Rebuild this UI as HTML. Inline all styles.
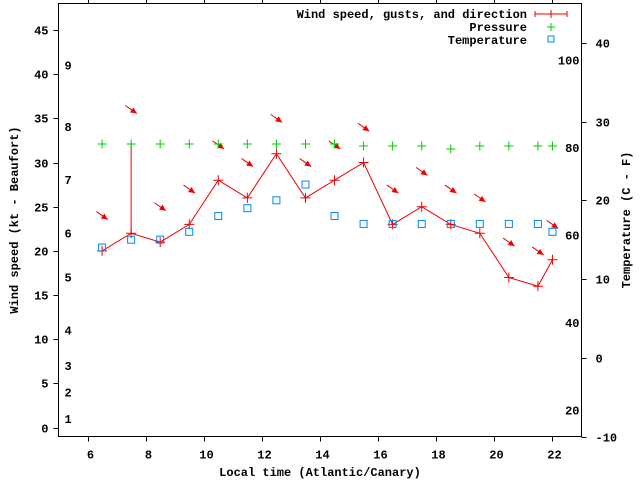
<!DOCTYPE html>
<html><head><meta charset="utf-8"><style>
html,body{margin:0;padding:0;background:#fff;}
svg{display:block;font-family:"Liberation Mono",monospace;font-weight:bold;font-size:12px;}
</style></head><body>
<svg id="chart" width="640" height="480" viewBox="0 0 640 480" xmlns="http://www.w3.org/2000/svg">
<rect width="640" height="480" fill="#fff"/>
<g id="axes"></g>
<g id="marks"></g>
<g id="legend">
  <text x="527" y="18" text-anchor="end">Wind speed, gusts, and direction</text>
  <g stroke="#e00" stroke-width="1">
    <line x1="535" y1="14" x2="567" y2="14"/><line x1="535" y1="11" x2="535" y2="17"/><line x1="567" y1="11" x2="567" y2="17"/><line x1="551" y1="10" x2="551" y2="18"/>
  </g>
  <text x="527" y="31" text-anchor="end">Pressure</text>
  <g stroke="#0c0"><line x1="547" y1="27" x2="555" y2="27"/><line x1="551" y1="23" x2="551" y2="31"/></g>
  <text x="527" y="44" text-anchor="end">Temperature</text>
  <rect x="548" y="36" width="6" height="6" fill="none" stroke="#08f"/>
</g>
<text x="320" y="476" text-anchor="middle">Local time (Atlantic/Canary)</text>
<text transform="translate(18,220) rotate(-90)" text-anchor="middle">Wind speed (kt - Beaufort)</text>
<text transform="translate(630,220) rotate(-90)" text-anchor="middle">Temperature (C - F)</text>
</svg>
<script>
const times = [6.5,7.5,8.5,9.5,10.5,11.5,12.5,13.5,14.5,15.5,16.5,17.5,18.5,19.5,20.5,21.5,22];
const windKt = [20,22,21,23,28,26,31,26,28,30,23,25,23,22,17,16,19];
const gustKt = [null,32,null,null,null,null,null,null,null,null,null,null,null,null,null,null,null];
const windDir = [305,305,305,305,305,305,305,305,305,305,305,305,305,305,305,305,305];
const tempC = [14,15,15,16,18,19,20,22,18,17,17,17,17,17,17,17,16];
const pressureHpa = [1017,1017,1017,1017,1017,1017,1017,1017,1017,1016,1016,1016,1014.5,1016,1016,1016,1016];
const xTicks = [6,8,10,12,14,16,18,20,22];
const yTicks = [0,5,10,15,20,25,30,35,40,45];
const y2Ticks = [-10,0,10,20,30,40];
const beaufortKt = [1,4,7,11,17,22,28,34,41];
const beaufortLabels = ["1","2","3","4","5","6","7","8","9"];
const fahrenheit = [20,40,60,80,100];

const L=58.5,R=581.5,T=3.5,B=436.5;
const X=v=>L+(v-5)/(23-5)*(R-L);
const Y=v=>B-(v+1)/(48+1)*(B-T);
const Y2=c=>B-(c+10)/(45+10)*(B-T);
const YP=p=>146-(p-1016)*2;
const NS="http://www.w3.org/2000/svg";
function mk(tag,attrs,parent){const e=document.createElementNS(NS,tag);for(const k in attrs)e.setAttribute(k,attrs[k]);parent.appendChild(e);return e;}
const ax=document.getElementById('axes'), mg=document.getElementById('marks');
const frame=mk('rect',{x:L,y:T,width:R-L,height:B-T,fill:'none',stroke:'#000'},ax);


xTicks.forEach(v=>{const x=Math.round(X(v))+.5;
  mk('line',{x1:x,y1:B,x2:x,y2:B+5,stroke:'#000'},ax);mk('line',{x1:x,y1:T,x2:x,y2:T-5,stroke:'#000'},ax);
  const t=mk('text',{x:x+2,y:B+22,'text-anchor':'middle'},ax);t.textContent=v;
  
  });
yTicks.forEach(v=>{const y=Math.round(Y(v))+.5;
  mk('line',{x1:L-5,y1:y,x2:L,y2:y,stroke:'#000'},ax);
  const t=mk('text',{x:L-10,y:y+4,'text-anchor':'end'},ax);t.textContent=v;
  
  });
y2Ticks.forEach(v=>{const y=Math.round(Y2(v))+.5;
  mk('line',{x1:R,y1:y,x2:R+5,y2:y,stroke:'#000'},ax);
  const t=mk('text',{x:R+14,y:y+4,'text-anchor':'start'},ax);t.textContent=v;
  
  });
beaufortKt.forEach((v,i)=>{const t=mk('text',{x:L+6,y:Y(v)+4},ax);t.textContent=beaufortLabels[i];
  
  });
fahrenheit.forEach(f=>{const t=mk('text',{x:R-2,y:Y2((f-32)*5/9)+4,'text-anchor':'end'},ax);t.textContent=f;
  
  });
// wind line
const wl=mk('polyline',{points:times.map((t,i)=>X(t)+','+Y(windKt[i])).join(' '),fill:'none',stroke:'#e00'},mg);


times.forEach((t,i)=>{const x=X(t),y=Y(windKt[i]);
  const p=mk('path',{d:`M${x-5},${y}H${x+5}M${x},${y-5}V${y+5}`,stroke:'#e00'},mg);
  
  
  if(gustKt[i]!=null){const g=mk('line',{x1:x,y1:y,x2:x,y2:Y(gustKt[i]),stroke:'#e00'},mg);
    
    }
  // direction arrow
  const top=Math.max(windKt[i],gustKt[i]||0)+4;const cy=Y(top);
  const a=(windDir[i]-180)*Math.PI/180; // direction wind blows toward
  const dx=Math.sin(a)*7,dy=-Math.cos(a)*7;
  const x1=x-dx,y1=cy-dy,x2=x+dx,y2=cy+dy;
  const ang=Math.atan2(y2-y1,x2-x1);
  const h1x=x2-7*Math.cos(ang-0.45),h1y=y2-7*Math.sin(ang-0.45),h2x=x2-7*Math.cos(ang+0.45),h2y=y2-7*Math.sin(ang+0.45);
  const ar=mk('g',{},mg);
  
  
  mk('line',{x1:x1,y1:y1,x2:x2,y2:y2,stroke:'#e00'},ar);
  mk('polygon',{points:`${x2},${y2} ${h1x},${h1y} ${h2x},${h2y}`,fill:'#e00'},ar);
});
times.forEach((t,i)=>{const x=X(t),y=YP(pressureHpa[i]);
  const p=mk('path',{d:`M${x-4.5},${y}H${x+4.5}M${x},${y-4.5}V${y+4.5}`,stroke:'#0c0'},mg);
  
  });
times.forEach((t,i)=>{const x=X(t),y=Y2(tempC[i]);
  const r=mk('rect',{x:x-3.5,y:y-3.5,width:7,height:7,fill:'none',stroke:'#08f'},mg);
  
  });
</script>
</body></html>
